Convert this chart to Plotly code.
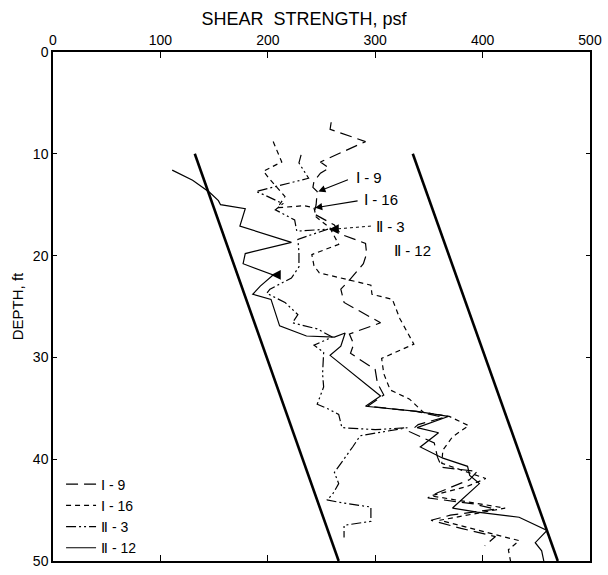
import plotly.graph_objects as go

# ---- data ----
depth_I9 = [6.9, 7.6, 8.8, 10.8, 11.4, 11.9, 12.7, 13.3, 13.7, 15.0,
            15.9, 17.0, 17.9, 18.8, 19.8, 20.8, 22.4, 23.3, 24.6, 26.6,
            27.7, 28.7, 29.6, 30.8, 31.2, 32.5, 33.7, 34.8, 35.3, 35.9,
            36.6, 37.3, 38.4, 39.8, 40.8, 41.2, 42.0, 43.3, 43.8, 44.4,
            44.9, 45.5, 46.0, 46.8, 47.6, 48.5]
shear_I9 = [259, 258, 291, 249, 257, 249, 243, 242, 246, 245,
            243, 262, 268, 291, 292, 289, 276, 268, 271, 305,
            276, 280, 277, 294, 300, 302, 308, 293, 338, 364,
            340, 332, 355, 358, 362, 395, 388, 358, 349, 392,
            412, 370, 352, 380, 412, 402]

depth_I16 = [8.8, 10.8, 11.7, 12.4, 14.2, 15.3, 15.1, 15.3, 16.2, 17.3,
             18.9, 19.9, 21.0, 21.7, 22.9, 23.8, 24.3, 26.2, 28.7, 30.1,
             31.6, 33.2, 34.1, 35.4, 35.8, 36.7, 37.8, 39.1, 40.4, 41.9,
             42.7, 43.6, 44.8, 46.0, 48.0, 48.9, 50.0]
shear_I16 = [205, 213, 196, 201, 216, 209, 234, 243, 245, 258,
             266, 241, 243, 248, 296, 297, 316, 323, 336, 306,
             308, 314, 332, 345, 369, 387, 372, 363, 362, 403,
             385, 352, 421, 360, 434, 424, 426]

depth_II3 = [10.1, 10.9, 12.4, 13.7, 14.1, 14.9, 15.5, 16.5, 17.6, 17.4,
             18.4, 19.7, 21.1, 22.2, 23.3, 23.7, 24.6, 25.8, 26.6, 27.2,
             28.0, 28.8, 29.5, 31.6, 32.9, 34.6, 35.1, 35.6, 36.9, 37.1,
             36.9, 37.7, 38.8, 40.2, 41.3, 42.4, 43.5, 44.0, 44.3, 44.7,
             46.1, 46.5, 47.7]
shear_II3 = [231, 229, 238, 189, 198, 214, 207, 225, 227, 256,
             228, 229, 229, 222, 202, 199, 216, 228, 223, 246,
             260, 243, 252, 251, 252, 246, 257, 266, 269, 300,
             330, 286, 279, 269, 262, 266, 260, 255, 270, 296,
             296, 271, 271]

depth_II12 = [11.6, 12.6, 13.8, 14.6, 15.0, 15.4, 17.1, 18.7, 19.8, 20.8,
              21.9, 23.0, 23.8, 24.3, 26.9, 27.9, 28.0, 27.6, 28.9, 29.8,
              33.8, 34.8, 35.3, 35.8, 36.9, 37.4, 38.8, 39.9, 40.7, 41.6,
              42.4, 44.8, 45.2, 45.7, 47.0, 48.2, 49.0, 50.0]
shear_II12 = [111, 130, 146, 154, 156, 179, 174, 222, 179, 177,
              205, 193, 186, 203, 211, 236, 262, 272, 268, 258,
              305, 291, 339, 368, 339, 359, 342, 363, 386, 388,
              397, 372, 395, 434, 460, 449, 455, 457]

bound_depth = [10, 50]
lower_bound = [132, 266]
upper_bound = [335, 470]

series_names = ["Ⅰ - 9", "Ⅰ - 16", "Ⅱ - 3", "Ⅱ - 12"]
label_x = [280, 288, 299, 316]
label_y = [12.3, 14.5, 17.1, 19.5]
head_x = [247, 244, 257]
head_y = [13.7, 15.3, 17.4]
tail_x = [276, 285, 296]
tail_y = [12.5, 14.6, 17.1]

x_ticks = [0, 100, 200, 300, 400, 500]
y_ticks = [0, 10, 20, 30, 40, 50]

FONT = "Liberation Sans, Arial, sans-serif"

fig = go.Figure()

styles = [
    (shear_I9, depth_I9, "12px,6px"),
    (shear_I16, depth_I16, "5px,4px"),
    (shear_II3, depth_II3, "10px,3px,2px,3px,2px,3px"),
    (shear_II12, depth_II12, "solid"),
]
for (xs, ys, dash), name in zip(styles, series_names):
    fig.add_trace(go.Scatter(x=xs, y=ys, mode="lines", name=name,
                             line=dict(color="black", width=1.2, dash=dash)))

for b in (lower_bound, upper_bound):
    fig.add_trace(go.Scatter(x=b, y=bound_depth, mode="lines", showlegend=False,
                             line=dict(color="black", width=2.6)))

# dotted leader for II-3
fig.add_trace(go.Scatter(x=[tail_x[2], head_x[2] + 5], y=[tail_y[2], head_y[2]],
                         mode="lines", showlegend=False,
                         line=dict(color="black", width=1, dash="dot")))

for i in range(2):
    fig.add_annotation(x=head_x[i], y=head_y[i], ax=tail_x[i], ay=tail_y[i],
                       xref="x", yref="y", axref="x", ayref="y", text="",
                       showarrow=True, arrowhead=2, arrowsize=1.3,
                       arrowwidth=1.1, arrowcolor="black", standoff=0)
# short arrowhead for II-3 and the mark on II-12
fig.add_annotation(x=head_x[2], y=head_y[2], ax=head_x[2] + 6, ay=head_y[2],
                   xref="x", yref="y", axref="x", ayref="y", text="",
                   showarrow=True, arrowhead=2, arrowsize=1.3, arrowwidth=1.5,
                   arrowcolor="black", standoff=0)
fig.add_annotation(x=203, y=21.9, ax=210, ay=21.9, xref="x", yref="y",
                   axref="x", ayref="y", text="", showarrow=True, arrowhead=2,
                   arrowsize=1.3, arrowwidth=1.5, arrowcolor="black", standoff=0)

for t, lx, ly in zip(series_names, label_x, label_y):
    fig.add_annotation(x=lx, y=ly, text=t, showarrow=False, xanchor="left",
                       yanchor="middle", font=dict(family=FONT, size=15, color="black"))

fig.update_layout(
    width=608, height=575,
    margin=dict(l=53, r=13, t=52, b=6),
    paper_bgcolor="white", plot_bgcolor="white",
    font=dict(family=FONT, size=14, color="black"),
    title=dict(text="SHEAR  STRENGTH, psf", x=0.5, xanchor="center",
               y=0.968, yanchor="middle", font=dict(size=18)),
    legend=dict(x=0.015, y=-0.005, xanchor="left", yanchor="bottom",
                bgcolor="rgba(0,0,0,0)", font=dict(size=14), tracegroupgap=0),
)
fig.update_xaxes(range=[0, 500], side="top", tickvals=x_ticks,
                 ticks="inside", ticklen=6, tickcolor="black", tickwidth=1,
                 showline=True, linecolor="black", linewidth=1.5, mirror="ticks",
                 showgrid=False, zeroline=False, tickfont=dict(size=14))
fig.update_yaxes(range=[50, 0], tickvals=y_ticks,
                 ticks="inside", ticklen=4, tickcolor="black", tickwidth=1,
                 showline=True, linecolor="black", linewidth=1.5, mirror="ticks",
                 showgrid=False, zeroline=False, tickfont=dict(size=14),
                 title=dict(text="DEPTH, ft", font=dict(size=15), standoff=6))

fig.write_html("out.html")
